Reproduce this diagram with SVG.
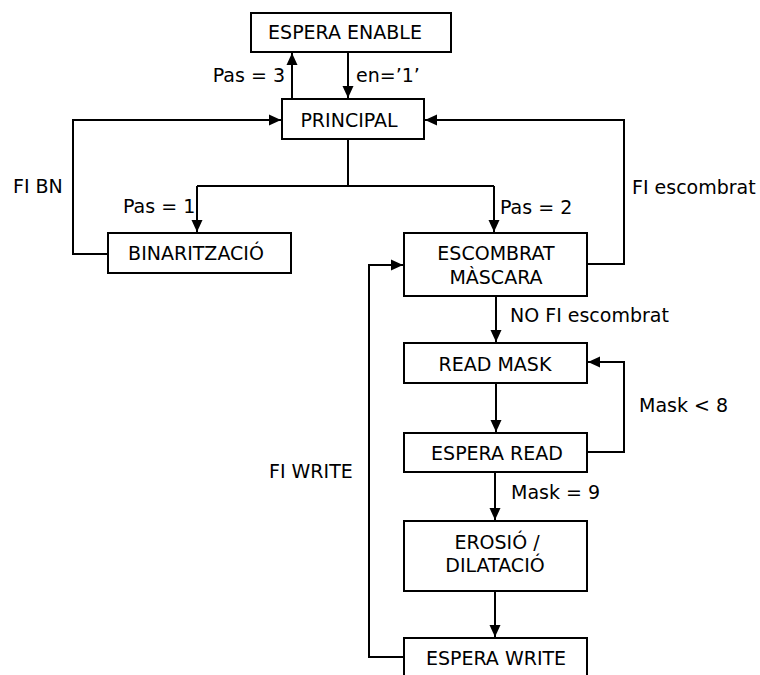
<svg xmlns="http://www.w3.org/2000/svg" width="760" height="675" viewBox="0 0 760 675">
  <defs>
    <marker id="arrow" viewBox="0 0 12 12" refX="12" refY="6" markerWidth="12" markerHeight="12" markerUnits="userSpaceOnUse" orient="auto">
      <path d="M0,0.5 L12,6 L0,11.5 Z" fill="#000"/>
    </marker>
    <style>
      .box { fill: #fff; stroke: #000; stroke-width: 2; }
      .lbl { font-family: "DejaVu Sans", Verdana, sans-serif; font-size: 19px; fill: #000; }
      .c { text-anchor: middle; }
      .e { text-anchor: end; }
      .edge { fill: none; stroke: #000; stroke-width: 2; }
      .arr { marker-end: url(#arrow); }
    </style>
  </defs>
  <rect width="760" height="675" fill="#fff"/>

  <!-- transitions -->
  <g id="connectors">
    <path class="edge arr" d="M292,99 V53"/>
    <path class="edge arr" d="M348,53 V98"/>
    <path class="edge arr" d="M108,254 H73 V120 H281"/>
    <path class="edge" d="M348,139 V186"/>
    <path class="edge arr" d="M197,186 H494 M197,186 V232"/>
    <path class="edge arr" d="M494,186 V232"/>
    <path class="edge arr" d="M587,264 H624 V120 H425"/>
    <path class="edge arr" d="M496,296 V342"/>
    <path class="edge arr" d="M496,383 V432"/>
    <path class="edge arr" d="M587,452 H624 V362 H588"/>
    <path class="edge arr" d="M495,472 V520"/>
    <path class="edge arr" d="M495,591 V637"/>
    <path class="edge arr" d="M404,657 H369 V265 H403"/>

    <text class="lbl e" x="285" y="82">Pas = 3</text>
    <text class="lbl" x="356" y="82">en=’1’</text>
    <text class="lbl" x="13" y="193">FI BN</text>
    <text class="lbl" x="123" y="213">Pas = 1</text>
    <text class="lbl" x="500" y="214">Pas = 2</text>
    <text class="lbl" x="632" y="194">FI escombrat</text>
    <text class="lbl" x="510" y="322">NO FI escombrat</text>
    <text class="lbl" x="639" y="412">Mask &lt; 8</text>
    <text class="lbl" x="511" y="499">Mask = 9</text>
    <text class="lbl" x="269" y="478">FI WRITE</text>
  </g>

  <!-- states -->
  <g id="espera-enable">
    <rect class="box" x="251" y="13" width="200" height="39"/>
    <text class="lbl c" x="345" y="39">ESPERA ENABLE</text>
  </g>
  <g id="principal">
    <rect class="box" x="282" y="99" width="142" height="40"/>
    <text class="lbl c" x="349" y="127">PRINCIPAL</text>
  </g>
  <g id="binaritzacio">
    <rect class="box" x="108" y="233" width="183" height="40"/>
    <text class="lbl c" x="196" y="260">BINARITZACIÓ</text>
  </g>
  <g id="escombrat-mascara">
    <rect class="box" x="404" y="233" width="183" height="63"/>
    <text class="lbl c" x="496" y="260">ESCOMBRAT</text>
    <text class="lbl c" x="496" y="284">MÀSCARA</text>
  </g>
  <g id="read-mask">
    <rect class="box" x="404" y="343" width="183" height="40"/>
    <text class="lbl c" x="495" y="371">READ MASK</text>
  </g>
  <g id="espera-read">
    <rect class="box" x="404" y="433" width="183" height="39"/>
    <text class="lbl c" x="497" y="460">ESPERA READ</text>
  </g>
  <g id="erosio-dilatacio">
    <rect class="box" x="404" y="521" width="183" height="70"/>
    <text class="lbl c" x="497" y="549">EROSIÓ /</text>
    <text class="lbl c" x="495" y="572">DILATACIÓ</text>
  </g>
  <g id="espera-write">
    <rect class="box" x="404" y="638" width="183" height="50"/>
    <text class="lbl c" x="496" y="665">ESPERA WRITE</text>
  </g>
</svg>
